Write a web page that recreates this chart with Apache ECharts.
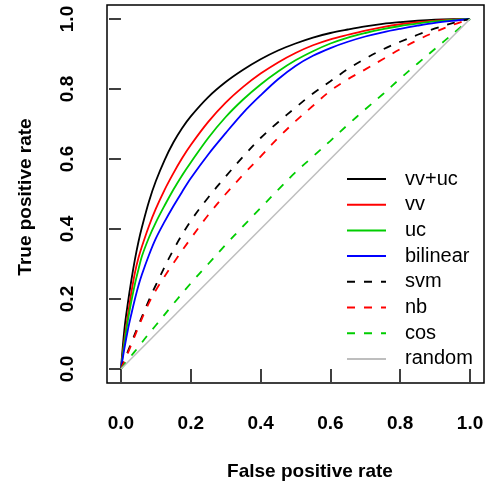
<!DOCTYPE html>
<html>
<head>
<meta charset="utf-8">
<script src="https://cdn.jsdelivr.net/npm/echarts@6/dist/echarts.min.js"></script>
<style>html,body{margin:0;padding:0;background:#fff}#c{width:488px;height:484px}</style>
</head>
<body>
<div id="c"></div>
<script>
// ---- data ----
const solidX    = [0, 0.01, 0.02, 0.03, 0.04, 0.05, 0.06, 0.08, 0.1, 0.125, 0.15, 0.175, 0.2, 0.25, 0.3, 0.35, 0.4, 0.45, 0.5, 0.55, 0.6, 0.65, 0.7, 0.75, 0.8, 0.85, 0.9, 0.95, 1.0];
const vvuc      = [0, 0.115, 0.19, 0.255, 0.313, 0.363, 0.405, 0.478, 0.537, 0.597, 0.647, 0.688, 0.722, 0.777, 0.82, 0.855, 0.885, 0.91, 0.93, 0.947, 0.96, 0.97, 0.979, 0.986, 0.991, 0.995, 0.998, 0.9995, 1];
const vv        = [0, 0.085, 0.155, 0.22, 0.275, 0.317, 0.35, 0.408, 0.458, 0.512, 0.559, 0.602, 0.64, 0.706, 0.761, 0.806, 0.844, 0.876, 0.903, 0.925, 0.942, 0.955, 0.967, 0.977, 0.985, 0.991, 0.995, 0.998, 1];
const uc        = [0, 0.075, 0.14, 0.195, 0.243, 0.284, 0.322, 0.375, 0.419, 0.467, 0.512, 0.553, 0.59, 0.66, 0.72, 0.77, 0.813, 0.85, 0.882, 0.908, 0.93, 0.947, 0.96, 0.971, 0.98, 0.987, 0.993, 0.997, 1];
const bilinear  = [0, 0.06, 0.113, 0.158, 0.2, 0.238, 0.27, 0.325, 0.373, 0.421, 0.465, 0.506, 0.545, 0.613, 0.674, 0.732, 0.782, 0.828, 0.866, 0.895, 0.917, 0.935, 0.95, 0.962, 0.972, 0.981, 0.989, 0.995, 1];
const dashX     = [0, 0.025, 0.05, 0.075, 0.1, 0.15, 0.2, 0.25, 0.3, 0.35, 0.4, 0.45, 0.5, 0.55, 0.6, 0.65, 0.7, 0.75, 0.8, 0.85, 0.9, 0.95, 1.0];
const svm       = [0, 0.063, 0.125, 0.185, 0.24, 0.34, 0.423, 0.49, 0.55, 0.607, 0.66, 0.705, 0.747, 0.787, 0.822, 0.857, 0.887, 0.913, 0.935, 0.955, 0.973, 0.988, 1];
const nb        = [0, 0.058, 0.12, 0.178, 0.225, 0.302, 0.373, 0.44, 0.5, 0.555, 0.607, 0.66, 0.708, 0.752, 0.795, 0.828, 0.856, 0.885, 0.914, 0.94, 0.963, 0.983, 1];
const cosv      = [0, 0.032, 0.063, 0.095, 0.125, 0.186, 0.245, 0.3, 0.355, 0.408, 0.46, 0.512, 0.562, 0.607, 0.652, 0.698, 0.742, 0.785, 0.83, 0.873, 0.915, 0.957, 1];
const randX     = [0, 1];
const randY     = [0, 1];
const ticks     = [0, 0.2, 0.4, 0.6, 0.8, 1.0];
const xTitle = 'False positive rate';
const yTitle = 'True positive rate';

const seriesDefs = [
  {name:'vv+uc',    x:solidX, y:vvuc,     color:'#000000', dash:'solid'},
  {name:'vv',       x:solidX, y:vv,       color:'#ff0000', dash:'solid'},
  {name:'uc',       x:solidX, y:uc,       color:'#00cd00', dash:'solid'},
  {name:'bilinear', x:solidX, y:bilinear, color:'#0000ff', dash:'solid'},
  {name:'svm',      x:dashX,  y:svm,      color:'#000000', dash:[8,9]},
  {name:'nb',       x:dashX,  y:nb,       color:'#ff0000', dash:[8,9]},
  {name:'cos',      x:dashX,  y:cosv,     color:'#00cd00', dash:[8,9]},
  {name:'random',   x:randX,  y:randY,    color:'#bebebe', dash:'solid'}
];

const FONT = '"Liberation Sans", Arial, Helvetica, sans-serif';
const chart = echarts.init(document.getElementById('c'), null, {renderer:'canvas'});

const series = seriesDefs.map(d => ({
  name: d.name,
  type: 'line',
  data: d.x.map((v, i) => [v, d.y[i]]),
  smooth: 0.35,
  showSymbol: false,
  symbol: 'none',
  lineStyle: {color: d.color, width: d.name === 'random' ? 1.5 : 1.8, type: d.dash},
  itemStyle: {color: d.color},
  emphasis: {disabled: true}
}));

const tickFmt = v => v.toFixed(1);

chart.setOption({
  animation: false,
  backgroundColor: '#ffffff',
  grid: {left:107, top:5, width:377, height:378, show:true, borderColor:'#000', borderWidth:1.5, backgroundColor:'transparent'},
  xAxis: {type:'value', min:-0.04, max:1.04, position:'bottom',
    axisLine:{show:false}, splitLine:{show:false},
    axisTick:{show:true, inside:false, length:13, customValues: ticks, lineStyle:{color:'#000', width:1.5}},
    axisLabel:{margin:31, customValues: ticks, color:'#000', fontFamily:FONT, fontSize:19, fontWeight:'bold', formatter: tickFmt}},
  yAxis: {type:'value', min:-0.04, max:1.04, position:'left',
    axisLine:{show:false}, splitLine:{show:false},
    axisTick:{show:true, inside:false, length:12, customValues: ticks, lineStyle:{color:'#000', width:1.5}},
    axisLabel:{margin:30, rotate:90, customValues: ticks, color:'#000', fontFamily:FONT, fontSize:19, fontWeight:'bold', formatter: tickFmt}},
  legend: {
    orient:'vertical', left:346, top:169, padding:0,
    itemWidth:39, itemHeight:14, itemGap:5.7,
    selectedMode:false,
    itemStyle:{opacity:0},
    textStyle:{fontFamily:FONT, fontSize:20, color:'#000', lineHeight:20, padding:[0,0,0,14]},
    data: seriesDefs.map(d => d.name)
  },
  graphic: [
    {type:'text', x:310, y:472, style:{text:xTitle, font:'bold 19px ' + FONT, fill:'#000', textAlign:'center', textVerticalAlign:'middle'}},
    {type:'text', x:26, y:197, rotation:Math.PI/2, style:{text:yTitle, font:'bold 19px ' + FONT, fill:'#000', textAlign:'center', textVerticalAlign:'middle'}}
  ],
  series: series
});
</script>
</body>
</html>
